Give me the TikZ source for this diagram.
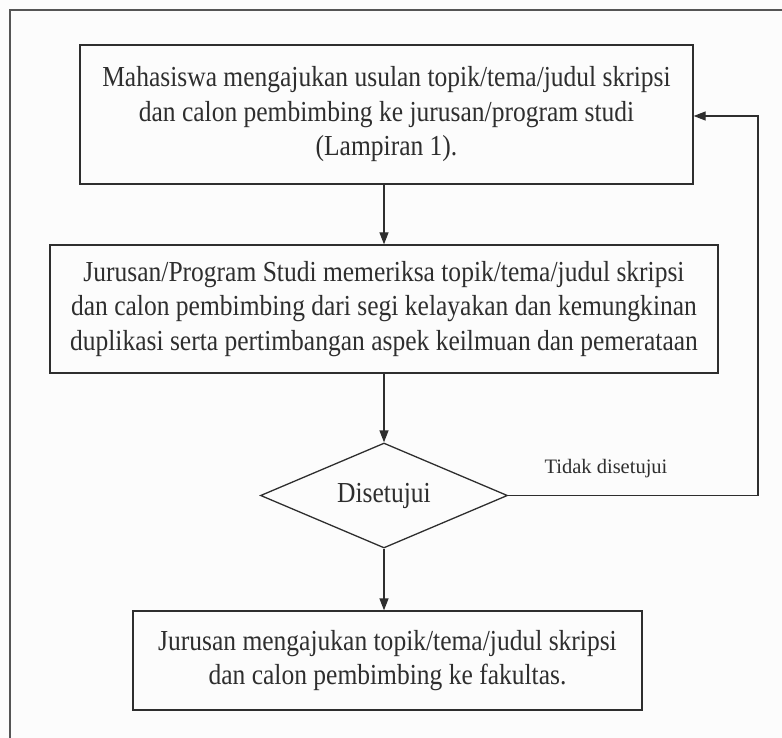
\documentclass[tikz,border=0pt]{standalone}
\usepackage{fontspec}
\setmainfont{Liberation Serif}
\newfontfamily\mainf[FakeStretch=0.88]{Liberation Serif}
\usetikzlibrary{shapes.geometric,arrows.meta}
\definecolor{ink}{HTML}{2E2E2E}
\definecolor{frame}{HTML}{555555}
\begin{document}
\begin{tikzpicture}[x=1pt,y=-1pt,
  every node/.style={text=ink},
  box/.style={draw=ink,line width=1.3pt,rectangle,inner sep=0pt},
  txt/.style={font=\mainf\fontsize{29}{34.5}\selectfont,align=center},
  conn/.style={draw=ink,line width=1.3pt,-{Triangle[length=12pt,width=9pt]}},
  plain/.style={draw=ink,line width=1.3pt}]
\useasboundingbox (0,0) rectangle (782,738);
\fill[white!98!gray] (0,0) rectangle (782,738);
% outer frame (partially visible)
\draw[frame,line width=1.5pt] (10,745) -- (10,10) -- (790,10);
% boxes
\node[box,minimum width=613pt,minimum height=139pt] (b1) at (386.5,114.5) {};
\node[txt] at (b1.center) {Mahasiswa mengajukan usulan topik/tema/judul skripsi\\dan calon pembimbing ke jurusan/program studi\\(Lampiran 1).};
\node[box,minimum width=668pt,minimum height=128pt] (b2) at (384,309) {};
\node[txt] at (b2.center) {Jurusan/Program Studi memeriksa topik/tema/judul skripsi\\dan calon pembimbing dari segi kelayakan dan kemungkinan\\duplikasi serta pertimbangan aspek keilmuan dan pemerataan};
\node[draw=ink,line width=1.3pt,diamond,minimum width=247pt,minimum height=105pt,inner sep=0pt] (d) at (384,495.5) {};
\node[txt] at (d.center) {Disetujui};
\node[box,minimum width=509pt,minimum height=99pt] (b4) at (387.5,660.5) {};
\node[txt] at (b4.center) {Jurusan mengajukan topik/tema/judul skripsi\\dan calon pembimbing ke fakultas.};
% connectors
\draw[conn] (b1.south -| d.north) -- (b2.north -| d.north);
\draw[conn] (b2.south -| d.north) -- (d.north);
\draw[conn] (d.south) -- (d.south |- b4.north);
\coordinate (c1) at (758,495.5);
\coordinate (c2) at (758,116);
\draw[conn] (d.east) -- (c1) -- (c2) -- (c2 -| b1.east);
\node[font=\fontsize{20.5}{24}\selectfont,anchor=base] (lbl) at (606,473) {Tidak disetujui};
\end{tikzpicture}
\end{document}
